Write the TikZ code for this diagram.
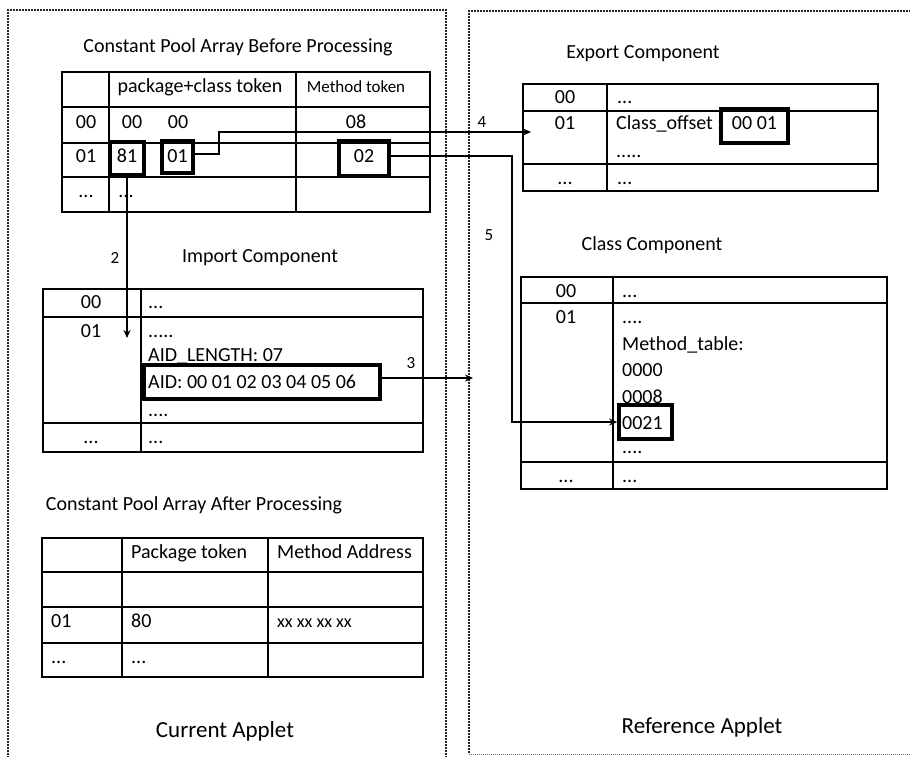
\documentclass[tikz,border=0pt]{standalone}
\usepackage{fontspec}
\setmainfont{Carlito}
\usetikzlibrary{arrows.meta}
\begin{document}
\begin{tikzpicture}[x=1pt,y=-1pt,
  txt/.style={inner sep=0pt, anchor=base, font=\fontsize{20}{24}\selectfont},
  ltxt/.style={txt, anchor=base west},
  small/.style={font=\fontsize{17}{20}\selectfont},
  lbl/.style={txt, font=\fontsize{17}{20}\selectfont},
  big/.style={txt, font=\fontsize{23}{27}\selectfont},
  grid/.style={line width=1.4pt},
  hbox/.style={draw, line width=3.6pt, inner sep=0pt, anchor=center},
  conn/.style={line width=2pt},
  arr/.style={conn, -{Stealth[length=8pt,width=7pt]}},
  frame/.style={line width=1.8pt, dash pattern=on 1.6pt off 1.4pt, black!85},
  framelow/.style={line width=1pt, dash pattern=on 1pt off 1pt, black!55}]

\useasboundingbox (0,0) rectangle (910,756);

% dotted frames of the two applets
\draw[frame] (8,770) -- (8,10) -- (446,10) -- (446,770);
\draw[frame] (920,11) -- (469,11) -- (469,754);
\draw[framelow] (469,754) -- (920,754);

% ---------- constant pool array before processing ----------
\node[txt] (cpbTitle) at (238,52) {Constant Pool Array Before Processing};
\draw[grid] (62,72) rectangle (430,212);
\draw[grid] (109,72) -- (109,212) (296,72) -- (296,212);
\draw[grid] (62,107) -- (430,107) (62,143) -- (430,143) (62,177) -- (430,177);
\node[txt] (cpbH1) at (200,92) {package+class token};
\node[txt,small] (cpbH2) at (356,92) {Method token};
\node[txt] (cpbR0) at (86,128) {00};
\node[txt] (cpbR0a) at (132,128) {00};
\node[txt] (cpbR0b) at (178,128) {00};
\node[txt] (cpbR0c) at (356,128) {08};
\node[txt] (cpbR1) at (86,162) {01};
\node[txt] (cpbR1a) at (127,162) {81};
\node[txt] (cpbR1b) at (177.5,162) {01};
\node[txt] (cpbR1c) at (364,162) {02};
\node[txt] (cpbR2) at (86,197) {...};
\node[txt] (cpbR2a) at (126,197) {...};
\node[hbox, minimum width=34pt, minimum height=33pt] (b81) at (127,158.5) {};
\node[hbox, minimum width=31pt, minimum height=32pt] (b01) at (177.5,157) {};
\node[hbox, minimum width=50pt, minimum height=35pt] (b02) at (364,158.5) {};

% ---------- import component ----------
\node[txt] (impTitle) at (260,262) {Import Component};
\draw[grid] (43,289) rectangle (423,452);
\draw[grid] (141,289) -- (141,452);
\draw[grid] (43,317) -- (423,317) (43,423) -- (423,423);
\node[txt] (impR0) at (91,308) {00};
\node[ltxt] (impR0a) at (148,308) {...};
\node[txt] (impR1) at (91,337) {01};
\node[ltxt] (impR1a) at (148,337) {.....};
\node[ltxt] (impR1b) at (148,361) {AID\_LENGTH: 07};
\node[ltxt] (impR1c) at (148,388) {AID: 00 01 02 03 04 05 06};
\node[ltxt] (impR1d) at (148,416) {....};
\node[txt] (impR2) at (91,443) {...};
\node[ltxt] (impR2a) at (148,443) {...};
\node[hbox, minimum width=236pt, minimum height=34pt] (baid) at (262,382) {};

% ---------- constant pool array after processing ----------
\node[txt] (cpaTitle) at (194,510) {Constant Pool Array After Processing};
\draw[grid] (42,538) rectangle (423,677);
\draw[grid] (122,538) -- (122,677) (268,538) -- (268,677);
\draw[grid] (42,572) -- (423,572) (42,607) -- (423,607) (42,643) -- (423,643);
\node[ltxt] (cpaH1) at (131,558) {Package token};
\node[ltxt] (cpaH2) at (277,558) {Method Address};
\node[ltxt] (cpaR1) at (51,627) {01};
\node[ltxt] (cpaR1a) at (131,627) {80};
\node[ltxt,font=\fontsize{18}{21}\selectfont] (cpaR1b) at (277,627) {xx xx xx xx};
\node[ltxt] (cpaR2) at (51,663) {...};
\node[ltxt] (cpaR2a) at (131,663) {...};

\node[big] (curApplet) at (225,737) {Current Applet};

% ---------- export component ----------
\node[txt] (expTitle) at (643,58) {Export Component};
\draw[grid] (523,84) rectangle (878,191);
\draw[grid] (607,84) -- (607,191);
\draw[grid] (523,111) -- (878,111) (523,164) -- (878,164);
\node[txt] (expR0) at (565,103) {00};
\node[ltxt] (expR0a) at (617,103) {...};
\node[txt] (expR1) at (565,129) {01};
\node[ltxt] (expR1a) at (616,129) {Class\_offset};
\node[txt] (expR1col) at (720,129) {:};
\node[txt] (expR1b) at (754.5,129) {00 01};
\node[ltxt] (expR1c) at (616,157) {.....};
\node[txt] (expR2) at (565,184) {...};
\node[ltxt] (expR2a) at (617,184) {...};
\node[hbox, minimum width=67pt, minimum height=34pt] (bexp) at (754.5,126) {};

% ---------- class component ----------
\node[txt] (clsTitle) at (652,250) {Class Component};
\draw[grid] (521,277) rectangle (887,489);
\draw[grid] (613,277) -- (613,489);
\draw[grid] (521,303) -- (887,303) (521,462) -- (887,462);
\node[txt] (clsR0) at (566,297) {00};
\node[ltxt] (clsR0a) at (622,297) {...};
\node[txt] (clsR1) at (566,323) {01};
\node[ltxt] (clsR1a) at (622,323) {....};
\node[ltxt] (clsR1b) at (622,350) {Method\_table:};
\node[ltxt] (clsR1c) at (622,376) {0000};
\node[ltxt] (clsR1d) at (622,403) {0008};
\node[ltxt] (clsR1e) at (622,429) {0021};
\node[ltxt] (clsR1f) at (622,453) {....};
\node[txt] (clsR2) at (566,482) {...};
\node[ltxt] (clsR2a) at (622,482) {...};
\node[hbox, minimum width=53pt, minimum height=34pt] (b0021) at (645.5,422) {};

\node[big] (refApplet) at (702,733) {Reference Applet};

% ---------- connectors ----------
\coordinate (c4) at (219,132);
\coordinate (e4) at (531,132);
\coordinate (c5) at (512,156);
\coordinate (t2) at (127,338);
\coordinate (t3) at (473,378);

\draw[arr] ([yshift=3pt]b01.east) -| (c4) -- (e4);
\draw[arr] ([yshift=2.5pt]b02.east) -- (c5) |- (b0021.west);
\draw[arr] (b81.south) -- (t2);
\draw[arr] ([yshift=4pt]baid.east) -- (t3);

\node[lbl] (n4) at (482,127) {4};
\node[lbl] (n5) at (489,240) {5};
\node[lbl] (n2) at (115,263) {2};
\node[lbl] (n3) at (411,368) {3};
\end{tikzpicture}
\end{document}
